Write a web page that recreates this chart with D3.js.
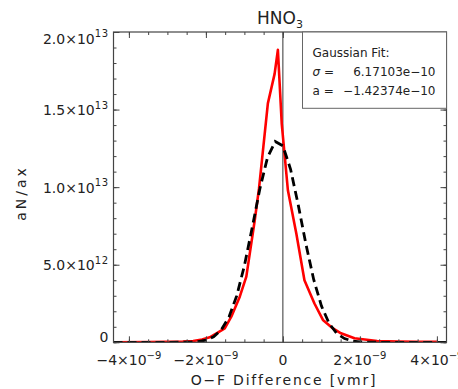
<!DOCTYPE html>
<html>
<head>
<meta charset="utf-8">
<script src="https://cdn.jsdelivr.net/npm/d3@7"></script>
<style>
  html, body { margin: 0; padding: 0; background: #fff; }
  svg { display: block; font-family: "DejaVu Sans", sans-serif; }
</style>
</head>
<body>
<svg id="chart" width="458" height="389"></svg>
<script>
// O-F difference histogram for HNO3 (red) and its Gaussian fit (dashed)
const histX = [-4.4e-9, -3.5e-9, -3.0e-9, -2.6e-9, -2.33e-9, -2.1e-9, -1.9e-9, -1.725e-9, -1.51e-9,
  -1.34e-9, -1.12e-9, -0.95e-9, -0.73e-9, -0.62e-9, -0.39e-9, -0.215e-9, -0.13e-9, -0.03e-9,
  0.13e-9, 0.35e-9, 0.56e-9, 0.82e-9, 1.04e-9, 1.27e-9, 1.51e-9, 1.86e-9, 2.45e-9, 3.0e-9, 3.5e-9, 4.0e-9];
const histY = [0, 0.01e12, 0.03e12, 0.05e12, 0.08e12, 0.18e12, 0.32e12, 0.58e12, 0.90e12,
  1.65e12, 2.94e12, 4.23e12, 7.88e12, 9.92e12, 15.4e12, 17.3e12, 18.85e12, 14.1e12,
  9.8e12, 7.0e12, 4.0e12, 2.5e12, 1.44e12, 0.95e12, 0.58e12, 0.26e12, 0.08e12, 0.05e12, 0.04e12, 0.03e12];

const fitX = [-4.4e-9, -3.0e-9, -2.6e-9, -2.4e-9, -2.2e-9, -2.0e-9, -1.8e-9, -1.6e-9, -1.4e-9,
  -1.2e-9, -1.0e-9, -0.8e-9, -0.6e-9, -0.4e-9, -0.2e-9, 0.0, 0.2e-9, 0.4e-9, 0.6e-9, 0.8e-9,
  1.0e-9, 1.2e-9, 1.4e-9, 1.6e-9, 1.8e-9, 2.0e-9, 2.2e-9, 2.4e-9, 2.8e-9, 4.25e-9];
const fitY = [0, 0, 0.005e12, 0.016e12, 0.05e12, 0.14e12, 0.35e12, 0.80e12, 1.63e12,
  2.99e12, 4.94e12, 7.36e12, 9.87e12, 11.91e12, 12.94e12, 12.66e12, 11.15e12, 8.84e12, 6.31e12, 4.05e12,
  2.35e12, 1.22e12, 0.57e12, 0.24e12, 0.09e12, 0.03e12, 0.01e12, 0.002e12, 0, 0];

const fitLines = ["Gaussian Fit:", "σ =", "a ="];
const fitValues = ["", "6.17103e\u221210", "\u22121.42374e\u221210"];

const xTicks = [-4e-9, -2e-9, 0, 2e-9, 4e-9];
const xTickMant = ["\u22124×10", "\u22122×10", "0", "2×10", "4×10"];
const xTickExp = ["\u22129", "\u22129", "", "\u22129", "\u22129"];
const xMinor = d3.range(-8, 9).map(k => k * 0.5e-9);

const yTicks = [0, 5e12, 1e13, 1.5e13, 2e13];
const yTickMant = ["0", "5.0×10", "1.0×10", "1.5×10", "2.0×10"];
const yTickExp = ["", "12", "13", "13", "13"];
const yMinor = d3.range(0, 21).map(k => k * 1e12);

const svg = d3.select("#chart");
const L = 113.5, R = 446.5, T = 32, B = 342.3;
const axisColor = "#444";

const x = d3.scaleLinear().domain([-4.4e-9, 4.25e-9]).range([L, R]);
const y = d3.scaleLinear().domain([0, 2e13]).range([B, T]);

const plot = svg.append("g");
const clip = svg.append("clipPath").attr("id", "plotclip")
  .append("rect").attr("x", L).attr("y", T).attr("width", R - L).attr("height", B - T);

// zero reference line
plot.append("line")
  .attr("x1", x(0)).attr("x2", x(0)).attr("y1", T).attr("y2", B)
  .attr("stroke", "#333").attr("stroke-width", 1);

const line = d3.line().x(d => x(d[0])).y(d => y(d[1]));

plot.append("path")
  .datum(d3.zip(histX, histY))
  .attr("d", line)
  .attr("clip-path", "url(#plotclip)")
  .attr("fill", "none").attr("stroke", "#ff0000").attr("stroke-width", 2.6)
  .attr("stroke-linejoin", "round");

plot.append("path")
  .datum(d3.zip(fitX, fitY))
  .attr("d", line)
  .attr("clip-path", "url(#plotclip)")
  .attr("fill", "none").attr("stroke", "#000").attr("stroke-width", 2.8)
  .attr("stroke-dasharray", "9,5");

// ticks on all four sides, pointing inward
function ticks(axisFn, scale, vals, size, transform) {
  const g = svg.append("g").attr("transform", transform)
    .call(axisFn(scale).tickValues(vals).tickSize(size).tickFormat(""));
  g.select(".domain").remove();
  g.selectAll("line").attr("stroke", axisColor).attr("stroke-width", 1);
}
ticks(d3.axisBottom, x, xMinor, -3, `translate(0,${B})`);
ticks(d3.axisBottom, x, xTicks, -6, `translate(0,${B})`);
ticks(d3.axisTop, x, xMinor, -3, `translate(0,${T})`);
ticks(d3.axisTop, x, xTicks, -6, `translate(0,${T})`);
ticks(d3.axisLeft, y, yMinor, -3, `translate(${L},0)`);
ticks(d3.axisLeft, y, yTicks, -6, `translate(${L},0)`);
ticks(d3.axisRight, y, yMinor, -3, `translate(${R},0)`);
ticks(d3.axisRight, y, yTicks, -6, `translate(${R},0)`);

// frame
svg.append("rect").attr("x", L).attr("y", T).attr("width", R - L).attr("height", B - T)
  .attr("fill", "none").attr("stroke", axisColor).attr("stroke-width", 1.2);

// tick labels
xTicks.forEach((v, i) => {
  const t = svg.append("text").attr("x", x(v)).attr("y", 365)
    .attr("text-anchor", "middle").attr("font-size", 14).attr("fill", "#222");
  t.append("tspan").text(xTickMant[i]);
  if (xTickExp[i]) t.append("tspan").attr("dy", -6.5).attr("font-size", 10).text(xTickExp[i]);
});
yTicks.forEach((v, i) => {
  const by = Math.min(Math.max(y(v) + 5.5, 43.5), B);
  const t = svg.append("text").attr("x", 108.5).attr("y", by)
    .attr("text-anchor", "end").attr("font-size", 14).attr("fill", "#222");
  t.append("tspan").text(yTickMant[i]);
  if (yTickExp[i]) t.append("tspan").attr("dy", -6.5).attr("font-size", 10).attr("letter-spacing", 0.5).text(yTickExp[i]);
});

// titles
const title = svg.append("text").attr("x", 280).attr("y", 23.5)
  .attr("text-anchor", "middle").attr("font-size", 17).attr("fill", "#222");
title.append("tspan").text("HNO");
title.append("tspan").attr("dy", 4).attr("font-size", 11).text("3");

svg.append("text").attr("x", 284).attr("y", 385)
  .attr("text-anchor", "middle").attr("font-size", 14).attr("letter-spacing", 1.8).attr("fill", "#222")
  .text("O\u2212F Difference [vmr]");

svg.append("text").attr("transform", "translate(25.5,193) rotate(-90)")
  .attr("text-anchor", "middle").attr("font-size", 14).attr("letter-spacing", 3).attr("fill", "#222")
  .text("aN/ax");

// fit parameter box
svg.append("rect").attr("x", 302.5).attr("y", T).attr("width", R - 302.5).attr("height", 108.3 - T)
  .attr("fill", "#fff").attr("stroke", "#666").attr("stroke-width", 1);
const rowsY = [57, 76, 95];
fitLines.forEach((s, i) => {
  svg.append("text").attr("x", 312.5).attr("y", rowsY[i]).attr("font-size", 12).attr("fill", "#222")
    .attr("font-style", i === 1 ? "italic" : null).text(s);
  if (fitValues[i]) {
    svg.append("text").attr("x", 435.5).attr("y", rowsY[i]).attr("text-anchor", "end")
      .attr("font-size", 12).attr("fill", "#222").text(fitValues[i]);
  }
});
</script>
</body>
</html>
